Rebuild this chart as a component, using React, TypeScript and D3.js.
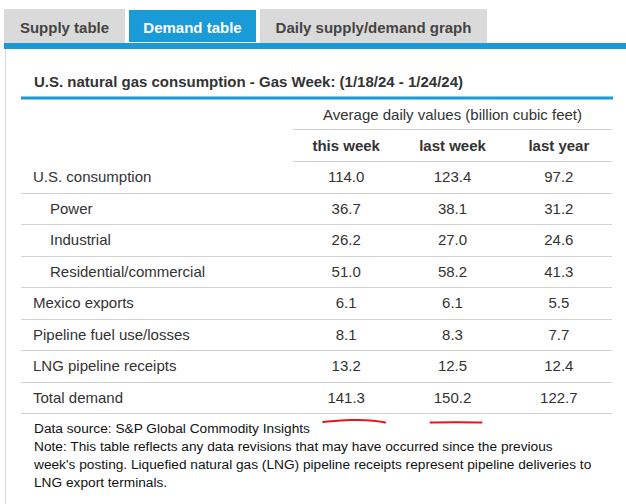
import React from "react";
import * as d3 from "d3";

const tabs = ["Supply table", "Demand table", "Daily supply/demand graph"];
const activeTab = "Demand table";
const title = "U.S. natural gas consumption - Gas Week: (1/18/24 - 1/24/24)";
const unitsLabel = "Average daily values (billion cubic feet)";
const columns = ["this week", "last week", "last year"];
const rowLabels = [
  "U.S. consumption",
  "Power",
  "Industrial",
  "Residential/commercial",
  "Mexico exports",
  "Pipeline fuel use/losses",
  "LNG pipeline receipts",
  "Total demand",
];
const indented = [false, true, true, true, false, false, false, false];
const thisWeek = [114.0, 36.7, 26.2, 51.0, 6.1, 8.1, 13.2, 141.3];
const lastWeek = [123.4, 38.1, 27.0, 58.2, 6.1, 8.3, 12.5, 150.2];
const lastYear = [97.2, 31.2, 24.6, 41.3, 5.5, 7.7, 12.4, 122.7];
const notes = [
  "Data source: S&P Global Commodity Insights",
  "Note: This table reflects any data revisions that may have occurred since the previous",
  "week's posting. Liquefied natural gas (LNG) pipeline receipts represent pipeline deliveries to",
  "LNG export terminals.",
];
const underlined = ["this week", "last week"];

const W = 626;
const H = 504;
const BLUE = "#1a9ad6";
const FONT = "'Liberation Sans', Arial, sans-serif";
const TEXT = "#333";
const GRID = "#d2d2d2";

export default function App() {
  const tabWidths = [121, 129, 227];
  const tabX: number[] = [];
  let acc = 4;
  tabWidths.forEach((w) => {
    tabX.push(acc);
    acc += w + 3;
  });

  const series = [thisWeek, lastWeek, lastYear];
  const x = d3.scaleBand<string>().domain(columns).range([293, 612]);
  const y = d3.scaleBand<string>().domain(rowLabels).range([161, 413]);
  const tableLeft = 21;
  const tableRight = 612;
  const fmt = d3.format(".1f");

  const totalRow = rowLabels[rowLabels.length - 1];
  const underlineY = (y(totalRow) ?? 0) + y.bandwidth() + 8;
  const line = d3.line<[number, number]>().curve(d3.curveBasis);

  return (
    <svg
      width={W}
      height={H}
      style={{ position: "absolute", left: 0, top: 0, background: "#fff" }}
      fontFamily={FONT}
    >
      {/* tabs */}
      {tabs.map((t, i) => {
        const active = t === activeTab;
        return (
          <g key={t}>
            <rect
              x={tabX[i]}
              y={9}
              width={tabWidths[i]}
              height={34}
              fill={active ? BLUE : "#dadada"}
            />
            {active && (
              <rect
                x={tabX[i] + 0.5}
                y={9.5}
                width={tabWidths[i] - 1}
                height={33}
                fill="none"
                stroke="#fff"
              />
            )}
            <text
              x={tabX[i] + tabWidths[i] / 2}
              y={27}
              textAnchor="middle"
              dominantBaseline="central"
              fontSize={15}
              fontWeight="bold"
              fill={active ? "#fff" : "#444"}
            >
              {t}
            </text>
          </g>
        );
      })}
      <rect x={4} y={43} width={W - 4} height={6} fill={BLUE} />
      <line x1={5.5} x2={5.5} y1={49} y2={H} stroke="#dcdcdc" />

      {/* title */}
      <text x={34} y={81} dominantBaseline="central" fontSize={15} fontWeight="bold" fill={TEXT}>
        {title}
      </text>
      <rect x={21} y={96.5} width={592} height={3} fill={BLUE} />

      {/* units header */}
      <text
        x={(x.range()[0] + x.range()[1]) / 2}
        y={114}
        textAnchor="middle"
        dominantBaseline="central"
        fontSize={15}
        fill={TEXT}
      >
        {unitsLabel}
      </text>
      <line x1={293} x2={tableRight} y1={129.5} y2={129.5} stroke={GRID} />
      {columns.map((c) => (
        <text
          key={c}
          x={(x(c) ?? 0) + x.bandwidth() / 2}
          y={145}
          textAnchor="middle"
          dominantBaseline="central"
          fontSize={15}
          fontWeight="bold"
          fill={TEXT}
        >
          {c}
        </text>
      ))}
      <line x1={293} x2={tableRight} y1={161.5} y2={161.5} stroke={GRID} />

      {/* rows */}
      {rowLabels.map((r, i) => {
        const y0 = y(r) ?? 0;
        const cy = y0 + y.bandwidth() / 2;
        return (
          <g key={r}>
            <text
              x={indented[i] ? 50 : 33}
              y={cy}
              dominantBaseline="central"
              fontSize={15}
              fill={TEXT}
            >
              {r}
            </text>
            {columns.map((c, j) => (
              <text
                key={c}
                x={(x(c) ?? 0) + x.bandwidth() / 2}
                y={cy}
                textAnchor="middle"
                dominantBaseline="central"
                fontSize={15}
                fill={TEXT}
              >
                {fmt(series[j][i])}
              </text>
            ))}
            <line
              x1={tableLeft}
              x2={tableRight}
              y1={Math.round(y0 + y.bandwidth()) + 0.5}
              y2={Math.round(y0 + y.bandwidth()) + 0.5}
              stroke={GRID}
            />
          </g>
        );
      })}

      {/* red hand-drawn underlines */}
      {underlined.map((c, k) => {
        const cx = (x(c) ?? 0) + x.bandwidth() / 2;
        const pts: [number, number][] =
          k === 0
            ? [
                [cx - 23, underlineY + 1],
                [cx + 5, underlineY - 1.5],
                [cx + 30, underlineY - 0.5],
                [cx + 39, underlineY + 1.5],
              ]
            : [
                [cx - 22, underlineY + 1.5],
                [cx + 5, underlineY + 1.2],
                [cx + 29, underlineY + 1.6],
              ];
        return (
          <path key={c} d={line(pts) ?? ""} fill="none" stroke="#e8141b" strokeWidth={2} strokeLinecap="round" />
        );
      })}

      {/* notes */}
      {notes.map((n, i) => (
        <text key={i} x={34} y={428 + i * 18} dominantBaseline="central" fontSize={13.7} fill="#111">
          {n}
        </text>
      ))}
    </svg>
  );
}
